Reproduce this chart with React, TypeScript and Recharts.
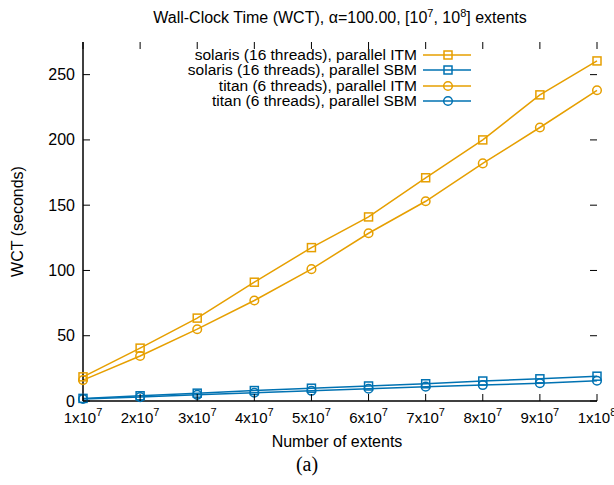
import React from "react";
import { LineChart, Line, XAxis, YAxis, Legend } from "recharts";

const extents = [1e7, 2e7, 3e7, 4e7, 5e7, 6e7, 7e7, 8e7, 9e7, 1e8];
const solarisItm = [18.5, 40.5, 63.5, 91, 117.5, 141, 171, 200, 234.5, 260.5];
const solarisSbm = [2, 4, 6, 8, 9.8, 11.5, 13.2, 15.3, 17, 19];
const titanItm = [16, 34.5, 55, 77, 101, 128.5, 153, 182, 209.5, 238];
const titanSbm = [1.5, 3, 4.7, 6.3, 7.8, 9.4, 11, 12.2, 13.6, 15.5];
const yTicks = [0, 50, 100, 150, 200, 250];

const ORANGE = "#E69F00";
const BLUE = "#0072B2";
const FONT = "'Liberation Sans', Arial, sans-serif";

const W = 614;
const H = 485;
const PLOT = { left: 83, right: 597, top: 42, bottom: 401 };

const data = extents.map((x, i) => ({
  x,
  solarisItm: solarisItm[i],
  solarisSbm: solarisSbm[i],
  titanItm: titanItm[i],
  titanSbm: titanSbm[i],
}));

const series = [
  { key: "solarisItm", name: "solaris (16 threads), parallel ITM", color: ORANGE, shape: "square" },
  { key: "solarisSbm", name: "solaris (16 threads), parallel SBM", color: BLUE, shape: "square" },
  { key: "titanItm", name: "titan (6 threads), parallel ITM", color: ORANGE, shape: "circle" },
  { key: "titanSbm", name: "titan (6 threads), parallel SBM", color: BLUE, shape: "circle" },
];

function Marker({ cx, cy, color, shape }: { cx: number; cy: number; color: string; shape: string }) {
  if (shape === "square") {
    return <rect x={cx - 4} y={cy - 4} width={8} height={8} fill="none" stroke={color} strokeWidth={1.5} />;
  }
  return <circle cx={cx} cy={cy} r={4.3} fill="none" stroke={color} strokeWidth={1.5} />;
}

// gnuplot-style tick: inward marks on bottom and mirrored on top
function XTick(props: any) {
  const { x, y, payload } = props;
  const n = Math.round(payload.value / 1e7);
  const label = n === 10 ? "1x10" : `${n}x10`;
  const exp = n === 10 ? "8" : "7";
  return (
    <g>
      <line x1={x} x2={x} y1={y} y2={y - 7} stroke="#000" strokeWidth={1} />
      <line x1={x} x2={x} y1={PLOT.top} y2={PLOT.top + 7} stroke="#000" strokeWidth={1} />
      <text x={x} y={y + 22} textAnchor="middle" fontSize={15} fontFamily={FONT} fill="#000">
        {label}
        <tspan dy={-7} fontSize={11}>{exp}</tspan>
      </text>
    </g>
  );
}

function YTick(props: any) {
  const { x, y, payload } = props;
  return (
    <g>
      <line x1={x} x2={x + 7} y1={y} y2={y} stroke="#000" strokeWidth={1} />
      <line x1={PLOT.right} x2={PLOT.right - 7} y1={y} y2={y} stroke="#000" strokeWidth={1} />
      <text x={x - 8} y={y + 5.5} textAnchor="end" fontSize={16} fontFamily={FONT} fill="#000">
        {payload.value}
      </text>
    </g>
  );
}

function LegendBox() {
  return (
    <div style={{ fontFamily: FONT, fontSize: 15.5 }}>
      {series.map((s) => (
        <div key={s.key} style={{ display: "flex", alignItems: "center", justifyContent: "flex-end", height: 15.5 }}>
          <span style={{ whiteSpace: "nowrap", color: "#000" }}>{s.name}</span>
          <svg width={54} height={14} style={{ marginLeft: 4 }}>
            <line x1={2} x2={50} y1={7} y2={7} stroke={s.color} strokeWidth={1.5} />
            <Marker cx={27} cy={7} color={s.color} shape={s.shape} />
          </svg>
        </div>
      ))}
    </div>
  );
}

export default function App() {
  return (
    <div style={{ position: "absolute", left: 0, top: 0, width: W, height: H, background: "#fff" }}>
      <div
        style={{
          position: "absolute",
          top: 7,
          left: 0,
          width: 680,
          textAlign: "center",
          fontFamily: FONT,
          fontSize: 16,
          color: "#000",
        }}
      >
        Wall-Clock Time (WCT), α=100.00, [10<sup style={{ fontSize: 11 }}>7</sup>, 10
        <sup style={{ fontSize: 11 }}>8</sup>] extents
      </div>
      <LineChart
        width={W}
        height={H}
        data={data}
        margin={{ top: PLOT.top, right: W - PLOT.right, bottom: 0, left: 0 }}
      >
        <XAxis
          dataKey="x"
          type="number"
          domain={[1e7, 1e8]}
          ticks={extents}
          tickSize={0}
          tickMargin={0}
          tickLine={false}
          tick={<XTick />}
          height={H - PLOT.bottom}
          axisLine={{ stroke: "#000", strokeWidth: 1.5 }}
          interval={0}
          label={{
            value: "Number of extents",
            position: "insideTop",
            offset: 35,
            fontSize: 16,
            fontFamily: FONT,
            fill: "#000",
            dx: -3,
          }}
        />
        <XAxis
          xAxisId="top"
          orientation="top"
          dataKey="x"
          type="number"
          domain={[1e7, 1e8]}
          height={0}
          tick={false}
          tickLine={false}
          axisLine={{ stroke: "#000", strokeWidth: 1.5 }}
        />
        <YAxis
          type="number"
          domain={[0, 275]}
          ticks={yTicks}
          tickSize={0}
          tickMargin={0}
          tickLine={false}
          tick={<YTick />}
          width={PLOT.left}
          interval={0}
          axisLine={{ stroke: "#000", strokeWidth: 1.5 }}
          label={{
            value: "WCT (seconds)",
            angle: -90,
            position: "insideLeft",
            offset: 17,
            fontSize: 16,
            fontFamily: FONT,
            fill: "#000",
            style: { textAnchor: "middle" },
          }}
        />
        <YAxis
          yAxisId="right"
          orientation="right"
          type="number"
          domain={[0, 275]}
          width={0}
          tick={false}
          tickLine={false}
          axisLine={{ stroke: "#000", strokeWidth: 1.5 }}
        />
        <Legend
          layout="horizontal"
          verticalAlign="middle"
          align="center"
          content={<LegendBox />}
          wrapperStyle={{ position: "absolute", top: 47, left: 100, width: 375 }}
        />
        {series.map((s) => (
          <Line
            key={s.key}
            dataKey={s.key}
            name={s.name}
            stroke={s.color}
            strokeWidth={1.5}
            type="linear"
            isAnimationActive={false}
            dot={(p: any) => <Marker key={`${s.key}-${p.index}`} cx={p.cx} cy={p.cy} color={s.color} shape={s.shape} />}
            activeDot={false}
          />
        ))}
      </LineChart>
      <div
        style={{
          position: "absolute",
          top: 453,
          left: 0,
          width: W,
          textAlign: "center",
          fontFamily: "'Liberation Serif', 'DejaVu Serif', serif",
          fontSize: 20,
          color: "#000",
        }}
      >
        (a)
      </div>
    </div>
  );
}
